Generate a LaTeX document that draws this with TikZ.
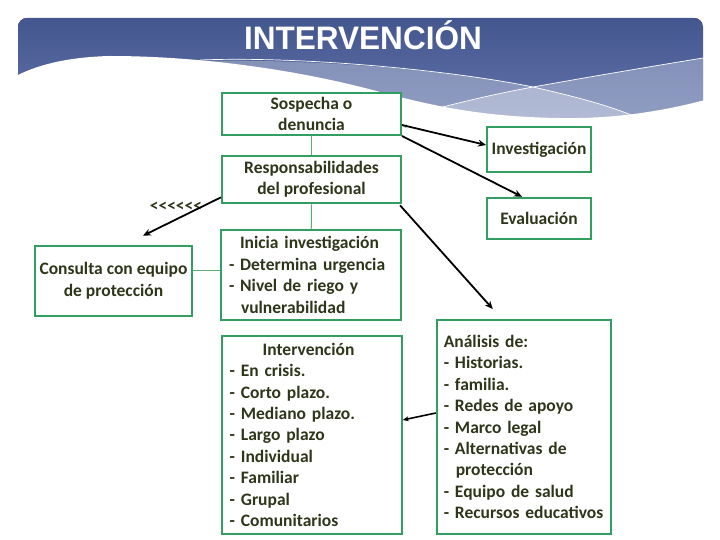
\documentclass[tikz,border=0pt]{standalone}
\usepackage{fontspec}
\setmainfont{Carlito}
\newfontfamily\titlefont{Liberation Sans}
\usetikzlibrary{arrows.meta}
\definecolor{hdrtop}{RGB}{68,86,142}
\definecolor{hdrbot}{RGB}{112,130,184}
\definecolor{boxgreen}{RGB}{50,158,98}
\definecolor{txt}{RGB}{46,54,26}
\definecolor{linkgreen}{RGB}{92,172,122}
\newcommand{\lt}{<\kern0pt}
\tikzset{
  box/.style={draw=boxgreen, line width=2pt, fill=white, text=txt,
    font=\fontsize{17.5}{21.4}\selectfont\bfseries, inner sep=0pt},
  arr/.style={-{Stealth[length=8pt,width=7pt]}, line width=1.8pt, black},
  smallarr/.style={-{Stealth[length=6pt,width=5pt]}, line width=1.6pt, black},
  link/.style={draw=linkgreen, line width=1pt},
}
\begin{document}
\begin{tikzpicture}[x=1pt,y=-1pt]
\useasboundingbox (0,0) rectangle (720,540);
% header
\begin{scope}
  \clip[rounded corners=9pt] (18,170) -- (18,18) -- (703,18) -- (703,170) -- cycle;
  \fill[top color=hdrtop, bottom color=hdrbot] (18,18) rectangle (703,170);
  % band under line A
  \fill[white, opacity=0.3] (150,62) .. controls (300,56) and (450,70) .. (533,87)
      .. controls (590,100) and (625,110) .. (660,128) -- (660,170) -- (150,170) -- cycle;
  % band under line B
  \fill[white, opacity=0.3] (400,118) .. controls (460,102) and (500,93) .. (533,87)
      .. controls (600,75) and (660,65) .. (703,58) -- (703,170) -- (400,170) -- cycle;
  \draw[white, line width=0.7pt] (200,60) .. controls (300,56) and (450,70) .. (533,87)
      .. controls (590,100) and (625,110) .. (660,128);
  \draw[white, line width=0.7pt] (420,113) .. controls (460,102) and (500,93) .. (533,87)
      .. controls (600,75) and (660,65) .. (703,58);
\end{scope}
% white wave (unclipped)
\fill[white] (0,80) -- (18,75) .. controls (40,64) and (70,57) .. (110,56)
    .. controls (200,56) and (300,70) .. (380,92)
    .. controls (430,105) and (480,117) .. (560,118)
    .. controls (620,119) and (670,110) .. (720,96) -- (720,180) -- (0,180) -- cycle;
\node[font=\titlefont\bfseries\fontsize{32.5}{32.5}\selectfont, text=white, anchor=base, inner sep=0pt, xscale=0.97] (title) at (363,50) {INTERVENCIÓN};

% boxes
\node[box, minimum width=179pt, minimum height=42pt, align=center] (sosp) at (311.5,114) {Sospecha o\\denuncia};
\node[box, minimum width=179pt, minimum height=47.6pt, align=center] (resp) at (311.5,179.5) {Responsabilidades\\del profesional};
\node[box, text width=164pt, inner xsep=8pt, minimum height=90pt, align=left] (inicia) at (311,275)
  {\hspace*{11pt}Inicia investigación\\- Determina urgencia\\- Nivel de riego y\\\hspace*{12pt}vulnerabilidad};
\node[box, minimum width=157pt, minimum height=70pt, align=center] (consulta) at (113.5,280.7) {Consulta con equipo\\de protección};
\node[box, text width=164pt, inner xsep=8pt, minimum height=198pt, align=left] (interv) at (311.7,434.8)
  {\hspace*{33pt}Intervención\\- En crisis.\\- Corto plazo.\\- Mediano plazo.\\- Largo plazo\\- Individual\\- Familiar\\- Grupal\\- Comunitarios};
\node[box, text width=160pt, inner xsep=7pt, minimum height=214pt, align=left] (analisis) at (523.8,427)
  {Análisis de:\\- Historias.\\- familia.\\- Redes de apoyo\\- Marco legal\\- Alternativas de\\\hspace*{12pt}protección\\- Equipo de salud\\- Recursos educativos};
\node[box, minimum width=104pt, minimum height=45pt] (invest) at (539,149.5) {Investigación};
\node[box, minimum width=104pt, minimum height=41pt] (evalua) at (539,218.3) {Evaluación};

% small texts
\node[text=txt, font=\fontsize{17.5}{17.5}\selectfont\bfseries, inner sep=0pt] (chev) at (176,207) {\lt\lt\lt\lt\lt\lt};
\node[text=boxgreen, font=\fontsize{9}{9}\selectfont, inner sep=0pt] (smalllt) at (405,127) {\lt};

% links
\draw[link] (sosp) -- (resp);
\draw[link] (resp) -- (inicia);
\draw[link] ([yshift=10.7pt]consulta.east) -- ([yshift=5pt]inicia.west);

% arrows
\draw[arr] ([yshift=-11pt]sosp.east) -- ([yshift=4.5pt]invest.west);
\draw[arr] (sosp.south east) -- ([xshift=-17pt]evalua.north);
\draw[arr] ([xshift=-2pt,yshift=-1pt]resp.south east) -- ([xshift=-31pt,yshift=10pt]analisis.north);
\draw[arr] ([yshift=-17.8pt]resp.west) -- ([xshift=29.5pt,yshift=9pt]consulta.north);
\draw[smallarr] ([yshift=14pt]analisis.west) -- ([yshift=14.8pt]interv.east);
\end{tikzpicture}
\end{document}
